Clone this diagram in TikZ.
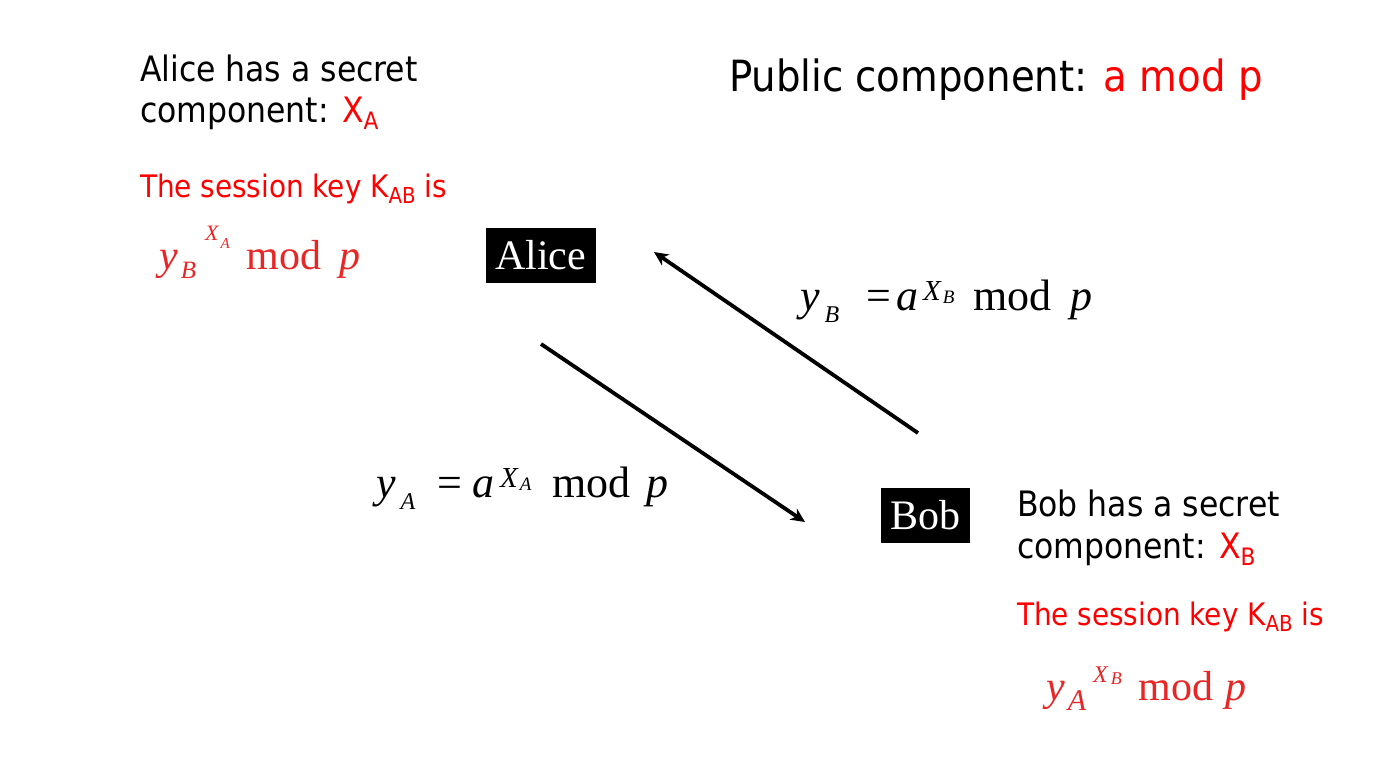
\documentclass[tikz,border=0pt]{standalone}
\usepackage{fontspec}
\setmainfont{DejaVu Sans Condensed}
\newfontfamily\tms{Liberation Serif}
\usetikzlibrary{arrows.meta}
\definecolor{keyred}{RGB}{255,0,0}
\definecolor{fred}{RGB}{232,38,38}
\newcommand\fs[1]{\fontsize{#1}{#1}\selectfont}
% \shift{raise}{size}{text}
\newcommand\shift[3]{\raisebox{#1pt}{\fs{#2}#3}}
\tikzset{
  txt/.style={anchor=base west, inner sep=0pt, outer sep=0pt},
  frm/.style={anchor=base west, inner sep=0pt, font=\tms\fs{44}},
  party/.style={fill=black, text=white, font=\tms\fs{42}, inner sep=0pt, minimum height=55pt},
  msg/.style={line width=3.8pt, -{Stealth[length=14pt,width=13pt,inset=4pt]}}
}
\begin{document}
\begin{tikzpicture}[x=1pt,y=-1pt]
\useasboundingbox (0,0) rectangle (1387,773);
% left texts
\node[txt, font=\fs{35}] (atxt1) at (140,82) {Alice has a secret};
\node[txt, font=\fs{35}] (atxt2) at (140,123) {component: \textcolor{keyred}{X\shift{-7}{24}{A}}};
\node[txt, font=\fs{31}, text=keyred] (akey) at (140,197) {The session key K\shift{-6}{22}{AB} is};
\node[frm, text=fred, font=\tms\fs{42}] (aform) at (159,269) {\itshape y\kern3pt\shift{-9}{25}{B}\kern9pt\shift{29}{22}{X\kern2pt\shift{-8}{15}{A}}\kern17pt\upshape mod \kern8pt\itshape p};
% public
\node[txt, font=\fs{43}] (pub) at (729,92) {Public component: \textcolor{keyred}{a mod p}};
% parties
\node[party, minimum width=110pt] (alice) at (540.5,255.5) {Alice};
\node[party, minimum width=89pt] (bob) at (925,515.5) {Bob};
% messages
\coordinate (a1s) at (541,344);
\coordinate (a1e) at (805,522);
\coordinate (a2s) at (918,433);
\coordinate (a2e) at (654,252);
\draw[msg] (a1s) -- (a1e);
\draw[msg] (a2s) -- (a2e);
\node[frm] (yb) at (800,310) {\itshape y\kern5pt\shift{-12}{24}{B}\kern27pt\upshape=\kern5pt\itshape a\kern5pt\shift{10}{29}{X\kern2pt\shift{-3}{19}{B}}\kern19pt\upshape mod \kern8pt\itshape p};
\node[frm] (ya) at (376,497) {\itshape y\kern5pt\shift{-12}{24}{A}\kern22pt\upshape=\kern10pt\itshape a\kern6pt\shift{10}{29}{X\kern2pt\shift{-3}{19}{A}}\kern21pt\upshape mod \kern5pt\itshape p};
% right texts
\node[txt, font=\fs{35}] (btxt1) at (1017,516) {Bob has a secret};
\node[txt, font=\fs{35}] (btxt2) at (1017,558) {component: \textcolor{keyred}{X\shift{-7}{24}{B}}};
\node[txt, font=\fs{31}, text=keyred] (bkey) at (1017,625) {The session key K\shift{-6}{22}{AB} is};
\node[frm, text=fred, font=\tms\fs{42}] (bform) at (1046,700) {\itshape y\kern3pt\shift{-10}{30}{A}\kern7pt\shift{18}{24}{X\kern3pt\shift{-2}{18}{B}}\kern17pt\upshape mod \kern1pt\itshape p};
\end{tikzpicture}
\end{document}
